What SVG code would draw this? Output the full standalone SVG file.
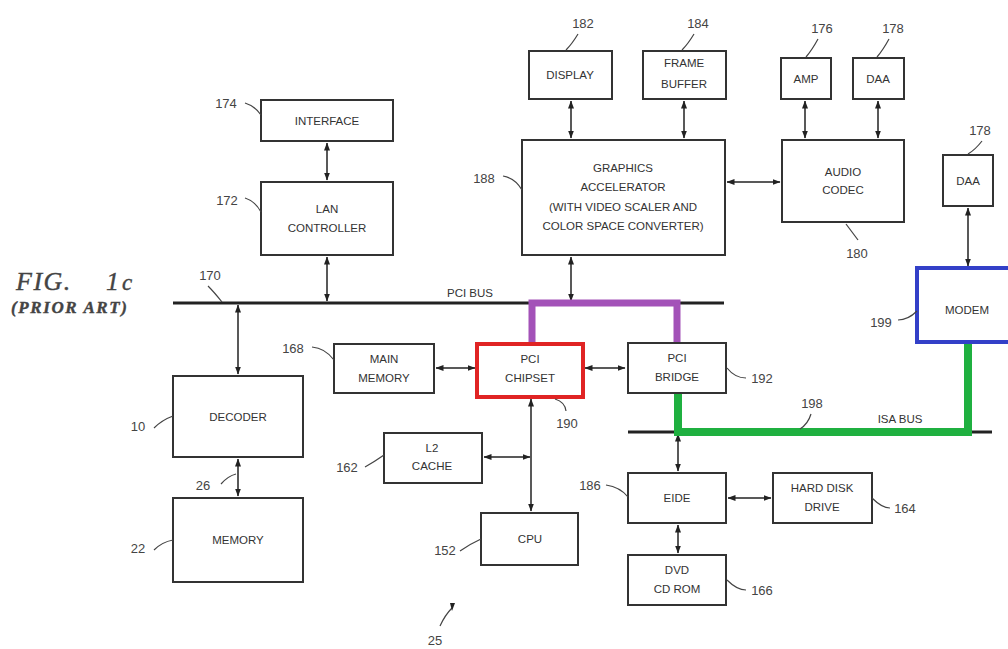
<svg xmlns="http://www.w3.org/2000/svg" width="1008" height="649" viewBox="0 0 1008 649">
<defs>
<marker id="ah" viewBox="0 0 8 6" refX="7.5" refY="3" markerWidth="8" markerHeight="6" markerUnits="userSpaceOnUse" orient="auto-start-reverse">
<path d="M0,0 L8,3 L0,6 z" fill="#222"/>
</marker>
<style>
.box{fill:#fff;stroke:#333;stroke-width:2}
.t{font-family:"Liberation Sans",Arial,sans-serif;font-size:11.5px;fill:#333;text-anchor:middle}
.n{font-family:"Liberation Sans",Arial,sans-serif;font-size:13px;fill:#444;text-anchor:middle}
.ld{fill:none;stroke:#444;stroke-width:1.2}
.c{stroke:#222;stroke-width:1.5;fill:none;marker-start:url(#ah);marker-end:url(#ah)}
.bus{stroke:#222;stroke-width:3;fill:none}
.fig{font-family:"Liberation Serif","Times New Roman",serif;font-style:italic;fill:#444;stroke:#444;stroke-width:0.4}
</style>
</defs>
<rect width="1008" height="649" fill="#fff"/>

<g id="title">
<text class="fig" x="16" y="290" font-size="26" letter-spacing="1.5">FIG.</text>
<text class="fig" x="106" y="290" font-size="26">1<tspan dx="3" font-size="23">c</tspan></text>
<text class="fig" x="11" y="313" font-size="17" font-weight="bold" letter-spacing="1.6">(PRIOR ART)</text>
<text class="n" x="435" y="645">25</text>
<path class="ld" d="M440,626 Q445,615 452,608"/>
<path d="M450,603 L455,603 L452,611 z" fill="#222"/>
</g>

<g id="connectors">
<line class="bus" x1="173" y1="303" x2="724" y2="303"/>
<line class="bus" x1="628" y1="432" x2="992" y2="432"/>
<line class="c" x1="327" y1="143" x2="327" y2="180"/>
<line class="c" x1="327" y1="257" x2="327" y2="301"/>
<line class="c" x1="238" y1="305" x2="238" y2="374"/>
<line class="c" x1="238" y1="459" x2="238" y2="496"/>
<line class="c" x1="571" y1="101" x2="571" y2="138"/>
<line class="c" x1="684" y1="101" x2="684" y2="138"/>
<line class="c" x1="805" y1="101" x2="805" y2="138"/>
<line class="c" x1="878" y1="101" x2="878" y2="138"/>
<line class="c" x1="727" y1="182" x2="780" y2="182"/>
<line class="c" x1="968" y1="208" x2="968" y2="266"/>
<line class="c" x1="571" y1="257" x2="571" y2="301"/>
<line class="c" x1="436" y1="368" x2="475" y2="368"/>
<line class="c" x1="585" y1="368" x2="625" y2="368"/>
<line class="c" x1="531" y1="399" x2="531" y2="511"/>
<line class="c" x1="484" y1="457" x2="530" y2="457"/>
<line class="c" x1="678" y1="434" x2="678" y2="471"/>
<line class="c" x1="728" y1="498" x2="771" y2="498"/>
<line class="c" x1="678" y1="525" x2="678" y2="553"/>
<path d="M532,343 V303 H677 V343" fill="none" stroke="#a352b8" stroke-width="7"/>
<path d="M678,393 V432 H968 V342" fill="none" stroke="#1fb040" stroke-width="8"/>
</g>

<g id="interface"><rect class="box" x="261" y="100" width="132" height="41"/><text class="t" x="327" y="125">INTERFACE</text></g>
<g id="lan"><rect class="box" x="261" y="182" width="132" height="73"/><text class="t" x="327" y="213">LAN</text><text class="t" x="327" y="232">CONTROLLER</text></g>
<g id="display"><rect class="box" x="529" y="51" width="83" height="48"/><text class="t" x="570" y="79">DISPLAY</text></g>
<g id="framebuffer"><rect class="box" x="643" y="51" width="83" height="48"/><text class="t" x="684" y="67">FRAME</text><text class="t" x="684" y="88">BUFFER</text></g>
<g id="amp"><rect class="box" x="781" y="58" width="50" height="41"/><text class="t" x="806" y="83">AMP</text></g>
<g id="daa1"><rect class="box" x="853" y="58" width="51" height="41"/><text class="t" x="878" y="83">DAA</text></g>
<g id="graphics"><rect class="box" x="522" y="140" width="203" height="115"/>
<text class="t" x="623" y="172">GRAPHICS</text><text class="t" x="623" y="191">ACCELERATOR</text><text class="t" x="623" y="211">(WITH VIDEO SCALER AND</text><text class="t" x="623" y="230">COLOR SPACE CONVERTER)</text></g>
<g id="audio"><rect class="box" x="782" y="140" width="122" height="82"/><text class="t" x="843" y="176">AUDIO</text><text class="t" x="843" y="194">CODEC</text></g>
<g id="daa2"><rect class="box" x="943" y="155" width="50" height="51"/><text class="t" x="968" y="185">DAA</text></g>
<g id="modem"><rect x="917" y="268" width="100" height="74" fill="#fff" stroke="#3340c8" stroke-width="4"/><text class="t" x="967" y="314">MODEM</text></g>
<g id="mainmemory"><rect class="box" x="334" y="344" width="100" height="49"/><text class="t" x="384" y="363">MAIN</text><text class="t" x="384" y="382">MEMORY</text></g>
<g id="chipset"><rect x="477" y="344" width="106" height="53" fill="#fff" stroke="#e02424" stroke-width="4"/><text class="t" x="530" y="363">PCI</text><text class="t" x="530" y="382">CHIPSET</text></g>
<g id="bridge"><rect class="box" x="628" y="343" width="98" height="50"/><text class="t" x="677" y="362">PCI</text><text class="t" x="677" y="381">BRIDGE</text></g>
<g id="decoder"><rect class="box" x="173" y="376" width="130" height="81"/><text class="t" x="238" y="421">DECODER</text></g>
<g id="memory"><rect class="box" x="173" y="498" width="130" height="84"/><text class="t" x="238" y="544">MEMORY</text></g>
<g id="l2cache"><rect class="box" x="384" y="433" width="98" height="50"/><text class="t" x="432" y="452">L2</text><text class="t" x="432" y="470">CACHE</text></g>
<g id="cpu"><rect class="box" x="481" y="513" width="97" height="52"/><text class="t" x="530" y="543">CPU</text></g>
<g id="eide"><rect class="box" x="628" y="473" width="98" height="50"/><text class="t" x="677" y="502">EIDE</text></g>
<g id="hdd"><rect class="box" x="773" y="473" width="99" height="50"/><text class="t" x="822" y="492">HARD DISK</text><text class="t" x="822" y="511">DRIVE</text></g>
<g id="dvd"><rect class="box" x="628" y="555" width="98" height="50"/><text class="t" x="677" y="574">DVD</text><text class="t" x="677" y="593">CD ROM</text></g>

<g id="labels">
<text class="n" x="226" y="108">174</text><path class="ld" d="M245,103 Q255,106 261,115"/>
<text class="n" x="227" y="205">172</text><path class="ld" d="M245,198 Q255,201 261,212"/>
<text class="n" x="210" y="280">170</text><path class="ld" d="M208,286 Q214,292 222,302"/>
<text class="n" x="484" y="183">188</text><path class="ld" d="M503,176 Q515,178 522,190"/>
<text class="n" x="583" y="28">182</text><path class="ld" d="M578,34 Q572,44 566,50"/>
<text class="n" x="698" y="28">184</text><path class="ld" d="M694,34 Q688,44 682,50"/>
<text class="n" x="822" y="33">176</text><path class="ld" d="M818,39 Q812,50 806,57"/>
<text class="n" x="893" y="33">178</text><path class="ld" d="M889,39 Q883,50 877,57"/>
<text class="n" x="980" y="135">178</text><path class="ld" d="M982,141 Q975,150 968,154"/>
<text class="n" x="857" y="258">180</text><path class="ld" d="M846,224 Q852,232 858,240"/>
<text class="n" x="881" y="327">199</text><path class="ld" d="M898,320 Q908,320 917,311"/>
<text class="n" x="293" y="353">168</text><path class="ld" d="M312,347 Q325,348 334,360"/>
<text class="n" x="567" y="428">190</text><path class="ld" d="M555,399 Q565,402 566,411"/>
<text class="n" x="762" y="383">192</text><path class="ld" d="M727,368 Q735,378 746,378"/>
<text class="n" x="812" y="408">198</text><path class="ld" d="M811,414 Q808,424 800,429"/>
<text class="t" x="900" y="423" font-size="12">ISA BUS</text>
<text class="t" x="470" y="297" font-size="12">PCI BUS</text>
<text class="n" x="138" y="431">10</text><path class="ld" d="M154,428 Q162,420 173,416"/>
<text class="n" x="347" y="472">162</text><path class="ld" d="M365,467 Q374,462 384,455"/>
<text class="n" x="203" y="490">26</text><path class="ld" d="M221,484 Q228,476 236,474"/>
<text class="n" x="590" y="490">186</text><path class="ld" d="M606,485 Q620,487 628,497"/>
<text class="n" x="905" y="513">164</text><path class="ld" d="M872,498 Q882,508 890,508"/>
<text class="n" x="138" y="553">22</text><path class="ld" d="M154,550 Q162,542 173,540"/>
<text class="n" x="445" y="555">152</text><path class="ld" d="M460,551 Q470,544 481,539"/>
<text class="n" x="762" y="595">166</text><path class="ld" d="M727,580 Q737,590 746,590"/>
</g>
</svg>
